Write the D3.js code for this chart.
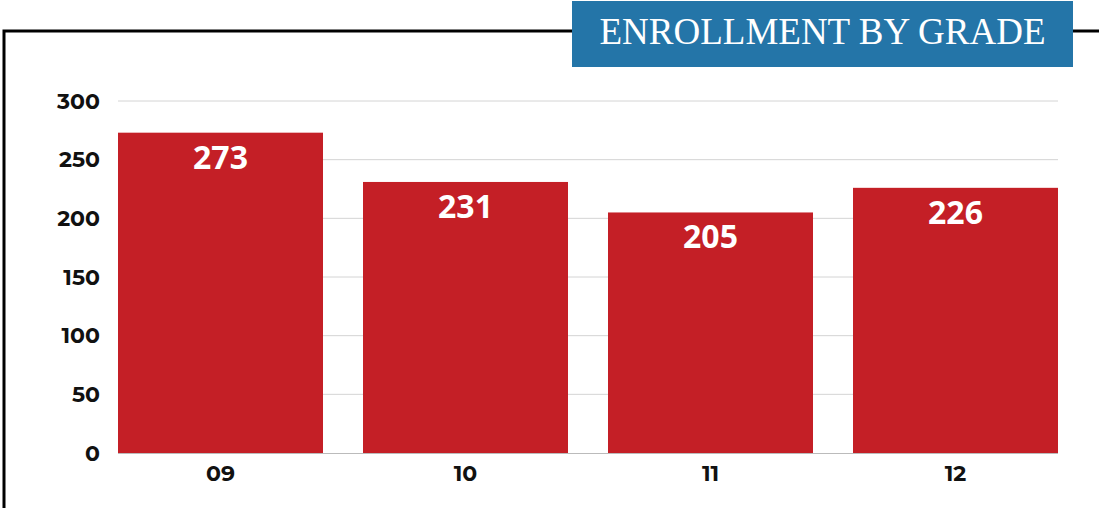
<!DOCTYPE html>
<html>
<head>
<meta charset="utf-8">
<script src="https://cdn.jsdelivr.net/npm/d3@7"></script>
<style>
  html, body { margin: 0; padding: 0; background: #fff; }
  svg { display: block; }
</style>
</head>
<body>
<svg id="chart" width="1099" height="508"></svg>
<script>
// Enrollment counts per grade
const grades = ["09", "10", "11", "12"];
const enrollment = [273, 231, 205, 226];
const yTicks = [0, 50, 100, 150, 200, 250, 300];
const title = "ENROLLMENT BY GRADE";

const svg = d3.select("#chart");
const W = 1099, H = 508;
const plot = { left: 118, right: 1058, top: 101, bottom: 453 };

const x = d3.scaleBand()
  .domain(grades)
  .range([plot.left, plot.right])
  .paddingInner(40 / 245)
  .paddingOuter(0);

const y = d3.scaleLinear()
  .domain([0, 300])
  .range([plot.bottom, plot.top]);

// Frame: top rule and left rule
svg.append("path")
  .attr("d", `M4,${H} L4,31 L${W},31`)
  .attr("fill", "none")
  .attr("stroke", "#000")
  .attr("stroke-width", 3);

// Title banner
const banner = svg.append("g");
banner.append("rect")
  .attr("x", 572).attr("y", 1)
  .attr("width", 501).attr("height", 66)
  .attr("fill", "#2475a8");
banner.append("text")
  .attr("x", 572 + 501 / 2).attr("y", 44)
  .attr("text-anchor", "middle")
  .attr("fill", "#fff")
  .attr("font-family", "'Liberation Serif', 'Times New Roman', serif")
  .attr("font-size", 37)
  .text(title);

// Horizontal gridlines
svg.append("g")
  .selectAll("line")
  .data(yTicks.filter(d => d > 0))
  .join("line")
  .attr("x1", plot.left).attr("x2", plot.right)
  .attr("y1", d => y(d)).attr("y2", d => y(d))
  .attr("stroke", "#d4d4d4")
  .attr("stroke-width", 1);

// Y axis labels
const yAxis = d3.axisLeft(y).tickValues(yTicks).tickSize(0).tickPadding(18);
const yg = svg.append("g")
  .attr("transform", `translate(${plot.left},0)`)
  .call(yAxis);
yg.select(".domain").remove();
yg.selectAll("text")
  .attr("font-family", "Montserrat, 'Open Sans', sans-serif")
  .attr("font-weight", 700)
  .attr("font-size", 22)
  .attr("fill", "#111");

// Bars
svg.append("g")
  .selectAll("rect")
  .data(grades)
  .join("rect")
  .attr("x", d => x(d))
  .attr("y", (d, i) => y(enrollment[i]))
  .attr("width", x.bandwidth())
  .attr("height", (d, i) => y(0) - y(enrollment[i]))
  .attr("fill", "#c41f26");

// Baseline
svg.append("line")
  .attr("x1", plot.left).attr("x2", plot.right)
  .attr("y1", y(0) + 0.5).attr("y2", y(0) + 0.5)
  .attr("stroke", "#bbb")
  .attr("stroke-width", 1);

// Value labels inside bars
svg.append("g")
  .selectAll("text")
  .data(grades)
  .join("text")
  .attr("x", d => x(d) + x.bandwidth() / 2)
  .attr("y", (d, i) => y(enrollment[i]) + 36)
  .attr("text-anchor", "middle")
  .attr("fill", "#fff")
  .attr("font-family", "'Open Sans', sans-serif")
  .attr("font-weight", 700)
  .attr("font-size", 32)
  .text((d, i) => enrollment[i]);

// X axis labels
const xAxis = d3.axisBottom(x).tickSize(0).tickPadding(12);
const xg = svg.append("g")
  .attr("transform", `translate(0,${plot.bottom})`)
  .call(xAxis);
xg.select(".domain").remove();
xg.selectAll("text")
  .attr("font-family", "Montserrat, 'Open Sans', sans-serif")
  .attr("font-weight", 700)
  .attr("font-size", 22)
  .attr("fill", "#111");
</script>
</body>
</html>
